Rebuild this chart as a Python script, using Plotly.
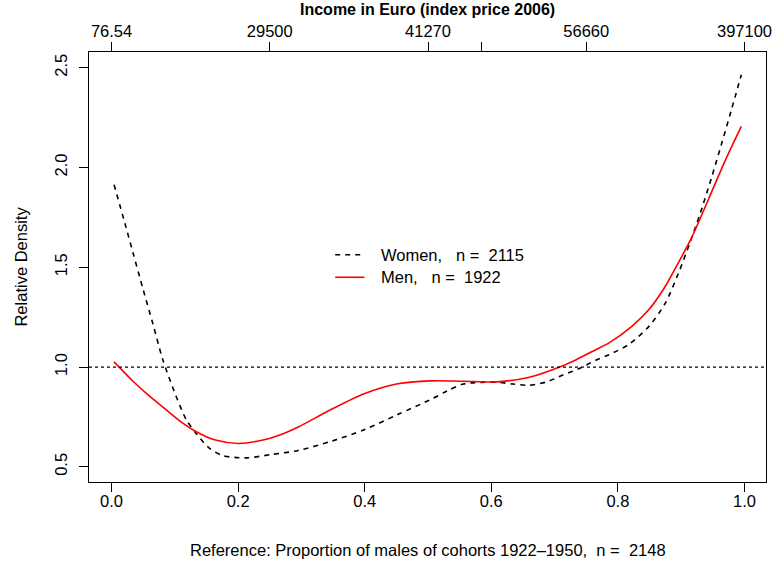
import plotly.graph_objects as go

# ---- data ----
women_x = [0.004, 0.021, 0.034, 0.050, 0.065, 0.081, 0.102, 0.118, 0.133, 0.154,
           0.175, 0.212, 0.253, 0.295, 0.347, 0.400, 0.452, 0.504, 0.530, 0.556,
           0.608, 0.634, 0.660, 0.687, 0.713, 0.739, 0.765, 0.786, 0.817, 0.849,
           0.875, 0.895, 0.914, 0.929, 0.948, 0.963, 0.979, 0.995]
women_y = [1.914, 1.722, 1.572, 1.388, 1.221, 1.037, 0.854, 0.737, 0.670, 0.595,
           0.557, 0.545, 0.562, 0.582, 0.628, 0.687, 0.762, 0.837, 0.880, 0.915,
           0.924, 0.915, 0.909, 0.925, 0.960, 0.993, 1.034, 1.062, 1.113, 1.204,
           1.321, 1.465, 1.625, 1.760, 1.950, 2.110, 2.285, 2.465]

men_x = [0.004, 0.034, 0.060, 0.086, 0.112, 0.133, 0.164, 0.201, 0.243, 0.274,
         0.295, 0.347, 0.399, 0.452, 0.504, 0.556, 0.608, 0.660, 0.713, 0.734,
         0.765, 0.786, 0.822, 0.849, 0.875, 0.895, 0.916, 0.943, 0.969, 0.995]
men_y = [1.026, 0.929, 0.854, 0.787, 0.720, 0.677, 0.634, 0.617, 0.637, 0.670,
         0.700, 0.787, 0.866, 0.916, 0.931, 0.929, 0.926, 0.949, 1.007, 1.037,
         1.087, 1.121, 1.204, 1.288, 1.405, 1.520, 1.645, 1.840, 2.031, 2.206]

reference_level = 1.0

bottom_ticks = [0.0, 0.2, 0.4, 0.6, 0.8, 1.0]
bottom_labels = ["0.0", "0.2", "0.4", "0.6", "0.8", "1.0"]
top_ticks = [0.0, 0.25, 0.5, 0.585, 0.75, 1.0]
top_labels = ["76.54", "29500", "41270", "", "56660", "397100"]
y_ticks = [0.5, 1.0, 1.5, 2.0, 2.5]
y_labels = ["0.5", "1.0", "1.5", "2.0", "2.5"]

legend_labels = ["Women,\u00a0\u00a0\u00a0n\u00a0=\u00a0\u00a02115",
                 "Men,\u00a0\u00a0\u00a0n\u00a0=\u00a0\u00a01922"]

# ---- styling ----
FONT = "Liberation Sans, Arial, Helvetica, sans-serif"
FS = 16.5
XR = [-0.0356, 1.034]
YR = [0.424, 2.579]

fig = go.Figure()
fig.add_trace(go.Scatter(x=women_x, y=women_y, mode="lines", name=legend_labels[0],
                         line=dict(color="black", width=1.6, dash="5px,5px",
                                   shape="spline", smoothing=0.8)))
fig.add_trace(go.Scatter(x=men_x, y=men_y, mode="lines", name=legend_labels[1],
                         line=dict(color="#ff0000", width=1.6,
                                   shape="spline", smoothing=0.8)))
# invisible trace so the top (income) axis is drawn
fig.add_trace(go.Scatter(x=men_x, y=men_y, mode="lines", xaxis="x2", yaxis="y",
                         line=dict(width=0), opacity=0, hoverinfo="skip",
                         showlegend=False))

shapes = [
    dict(type="line", xref="x domain", yref="y", x0=0, x1=1,
         y0=reference_level, y1=reference_level,
         line=dict(color="black", width=1.2, dash="3px,3px")),
    # legend keys
    dict(type="line", xref="x", yref="y", x0=0.3534, x1=0.3995, y0=1.563, y1=1.563,
         line=dict(color="black", width=1.6, dash="5px,5px")),
    dict(type="line", xref="x", yref="y", x0=0.3534, x1=0.3995, y0=1.450, y1=1.450,
         line=dict(color="#ff0000", width=1.6)),
]

annotations = [
    dict(x=0.4225, y=1.563, xref="x", yref="y", text=legend_labels[0], showarrow=False,
         xanchor="left", yanchor="middle", font=dict(family=FONT, size=FS, color="black")),
    dict(x=0.4225, y=1.450, xref="x", yref="y", text=legend_labels[1], showarrow=False,
         xanchor="left", yanchor="middle", font=dict(family=FONT, size=FS, color="black")),
    dict(x=-0.1011, y=0.5, xref="paper", yref="paper", text="Relative Density",
         textangle=-90, showarrow=False, xanchor="center", yanchor="middle",
         font=dict(family=FONT, size=FS, color="black")),
    dict(x=0.5, y=-0.1592, xref="paper", yref="paper",
         text="Reference: Proportion of males of cohorts 1922\u20131950,\u00a0\u00a0n\u00a0=\u00a0\u00a02148",
         showarrow=False, xanchor="center", yanchor="middle",
         font=dict(family=FONT, size=FS, color="black")),
    dict(x=0.5, y=1.0983, xref="paper", yref="paper",
         text="<b>Income in Euro (index price 2006)</b>",
         showarrow=False, xanchor="center", yanchor="middle",
         font=dict(family=FONT, size=16, color="black")),
]

fig.update_layout(
    width=779, height=567,
    margin=dict(l=89, r=7, t=52, b=85, pad=0),
    paper_bgcolor="white", plot_bgcolor="white",
    showlegend=False,
    font=dict(family=FONT, size=FS, color="black"),
    xaxis=dict(range=XR, tickvals=bottom_ticks, ticktext=bottom_labels,
               ticks="outside", ticklen=9, tickwidth=1, tickcolor="black",
               ticklabelstandoff=-5,
               showgrid=False, zeroline=False, showline=True, mirror=True,
               linecolor="black", linewidth=1.2,
               tickfont=dict(family=FONT, size=FS, color="black")),
    xaxis2=dict(range=XR, overlaying="x", side="top", anchor="y",
                tickvals=top_ticks, ticktext=top_labels,
                ticks="outside", ticklen=9, tickwidth=1, tickcolor="black",
                ticklabelstandoff=-2,
                showgrid=False, zeroline=False, showline=False,
                tickfont=dict(family=FONT, size=FS, color="black")),
    yaxis=dict(range=YR, tickvals=y_ticks, ticktext=y_labels, tickangle=-90,
               ticks="outside", ticklen=9, tickwidth=1, tickcolor="black",
               ticklabelstandoff=5,
               showgrid=False, zeroline=False, showline=True, mirror=True,
               linecolor="black", linewidth=1.2,
               tickfont=dict(family=FONT, size=FS, color="black")),
    shapes=shapes,
    annotations=annotations,
)

fig.write_html("out.html", config={"displayModeBar": False},
               post_script="document.body.style.margin='0px';")
